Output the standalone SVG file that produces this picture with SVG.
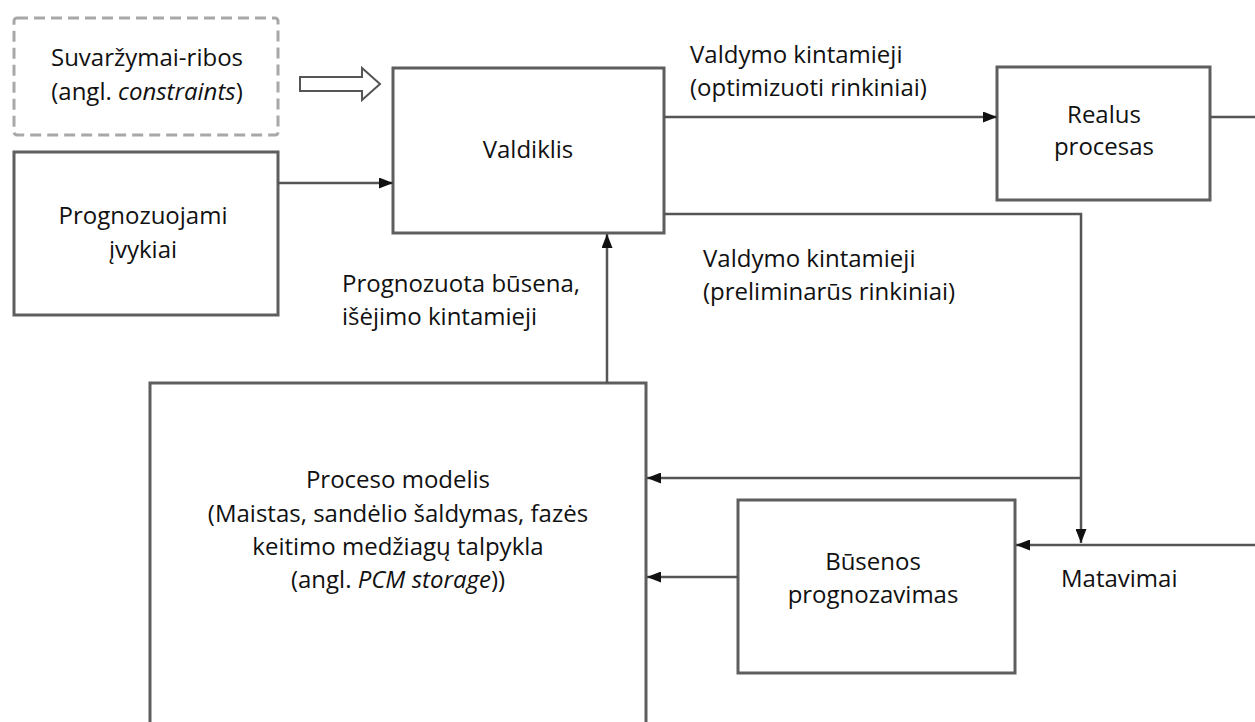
<svg xmlns="http://www.w3.org/2000/svg" width="1255" height="722" viewBox="0 0 1255 722">
<style>
.box{fill:#fff;stroke:#5e5e5e;stroke-width:3}
.dash{fill:#fff;stroke:#a8a8a8;stroke-width:3;stroke-dasharray:11 6}
.ln{fill:none;stroke:#555;stroke-width:2.5}
text{font-family:"Open Sans","Liberation Sans",sans-serif;font-size:24px;fill:#111}
.c{text-anchor:middle}
</style>
<defs>
<marker id="ah" viewBox="0 0 14 11" refX="14" refY="5.5" markerWidth="14" markerHeight="11" markerUnits="userSpaceOnUse" orient="auto">
<path d="M0,0 L14,5.5 L0,11 Z" fill="#111"/>
</marker>
</defs>
<rect width="1255" height="722" fill="#fff"/>
<g id="constraints">
<rect class="dash" x="14" y="18" width="264" height="117" rx="3"/>
<text class="c" x="147" y="66">Suvaržymai-ribos</text>
<text class="c" x="147" y="100">(angl. <tspan font-style="italic">constraints</tspan>)</text>
</g>
<g id="events">
<rect class="box" x="14" y="152" width="264" height="163"/>
<text class="c" x="143" y="224">Prognozuojami</text>
<text class="c" x="143" y="258">įvykiai</text>
</g>
<g id="controller">
<rect class="box" x="393" y="68" width="271" height="165"/>
<text class="c" x="528" y="158">Valdiklis</text>
</g>
<g id="real-process">
<rect class="box" x="997" y="67" width="213" height="133"/>
<text class="c" x="1104" y="123">Realus</text>
<text class="c" x="1104" y="155">procesas</text>
</g>
<g id="process-model">
<rect class="box" x="150" y="383" width="496" height="345"/>
<text class="c" x="398" y="488">Proceso modelis</text>
<text class="c" x="398" y="522">(Maistas, sandėlio šaldymas, fazės</text>
<text class="c" x="398" y="555">keitimo medžiagų talpykla</text>
<text class="c" x="398" y="588">(angl. <tspan font-style="italic">PCM storage</tspan>))</text>
</g>
<g id="state-estimation">
<rect class="box" x="738" y="500" width="277" height="173"/>
<text class="c" x="873" y="570">Būsenos</text>
<text class="c" x="873" y="603">prognozavimas</text>
</g>
<g id="labels">
<text x="690" y="63">Valdymo kintamieji</text>
<text x="690" y="96">(optimizuoti rinkiniai)</text>
<text x="703" y="267">Valdymo kintamieji</text>
<text x="703" y="300">(preliminarūs rinkiniai)</text>
<text x="342" y="292">Prognozuota būsena,</text>
<text x="342" y="325">išėjimo kintamieji</text>
<text x="1061" y="587">Matavimai</text>
</g>
<g id="connectors">
<polygon points="300,77 362,77 362,68 380,84 362,100 362,91 300,91" fill="#fff" stroke="#555" stroke-width="2"/>
<line class="ln" x1="278" y1="183" x2="393" y2="183" marker-end="url(#ah)"/>
<line class="ln" x1="664" y1="117" x2="997" y2="117" marker-end="url(#ah)"/>
<line class="ln" x1="1210" y1="117" x2="1255" y2="117"/>
<polyline class="ln" points="664,214 1081,214 1081,543" marker-end="url(#ah)"/>
<line class="ln" x1="1081" y1="478" x2="647" y2="478" marker-end="url(#ah)"/>
<line class="ln" x1="1255" y1="545" x2="1016" y2="545" marker-end="url(#ah)"/>
<line class="ln" x1="738" y1="577" x2="647" y2="577" marker-end="url(#ah)"/>
<line class="ln" x1="607" y1="383" x2="607" y2="234" marker-end="url(#ah)"/>
</g>
</svg>
